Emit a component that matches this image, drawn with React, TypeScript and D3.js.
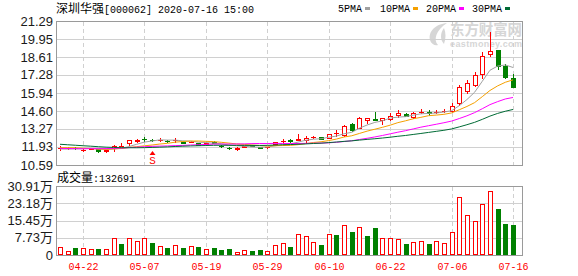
import React from "react";
import * as d3 from "d3";

const dates = ["04-17","04-20","04-21","04-22","04-23","04-24","04-27","04-28","04-29","04-30","05-06","05-07","05-08","05-11","05-12","05-13","05-14","05-15","05-18","05-19","05-20","05-21","05-22","05-25","05-26","05-27","05-28","05-29","06-01","06-02","06-03","06-04","06-05","06-08","06-09","06-10","06-11","06-12","06-15","06-16","06-17","06-18","06-19","06-22","06-23","06-24","06-29","06-30","07-01","07-02","07-03","07-06","07-07","07-08","07-09","07-10","07-13","07-14","07-15","07-16"];

const opens = [11.83,11.84,11.87,11.70,11.80,11.78,11.62,11.83,12.00,12.21,
  12.35,12.54,12.47,12.42,12.40,12.42,12.30,12.30,12.20,12.16,
  12.30,12.02,11.88,11.80,11.95,12.04,11.93,11.90,12.14,12.34,
  12.47,12.45,12.45,12.64,12.67,12.58,12.94,12.80,13.61,13.36,
  13.91,14.00,13.93,14.01,14.31,14.38,14.18,14.50,14.55,14.52,
  14.58,14.60,15.17,16.11,16.53,17.35,18.82,19.14,17.97,17.03];
const highs = [11.98,11.90,11.92,11.78,11.86,11.80,11.72,12.05,12.20,12.48,
  12.55,12.66,12.55,12.58,12.44,12.58,12.33,12.36,12.22,12.25,
  12.35,12.05,11.90,11.95,12.02,12.06,11.95,11.96,12.30,12.55,
  12.55,12.89,12.77,12.74,12.70,12.90,13.19,13.55,13.70,14.15,
  14.08,14.51,14.10,14.43,14.68,14.42,14.53,14.75,14.68,14.68,
  14.73,15.17,16.53,16.91,17.53,19.00,20.44,19.14,18.09,17.35];
const lows = [11.72,11.80,11.80,11.62,11.76,11.58,11.58,11.60,11.98,12.08,
  12.32,12.35,12.38,12.35,12.32,12.33,12.20,12.27,12.05,12.10,
  12.22,11.95,11.80,11.70,11.93,11.98,11.84,11.88,12.12,12.25,
  12.33,12.44,12.28,12.60,12.53,12.56,12.72,12.75,13.12,13.33,
  13.69,13.90,13.63,13.93,14.18,14.22,14.05,14.43,14.31,14.43,
  14.50,14.55,15.05,15.92,16.47,17.03,18.69,17.72,17.03,16.36];
const closes = [11.86,11.86,11.84,11.74,11.82,11.60,11.70,12.03,12.03,12.45,
  12.45,12.50,12.44,12.45,12.36,12.45,12.22,12.33,12.08,12.20,
  12.25,11.98,11.84,11.84,11.99,12.02,11.86,11.93,12.28,12.37,
  12.35,12.52,12.62,12.67,12.55,12.89,12.97,13.49,13.19,14.10,
  14.06,13.93,14.06,14.25,14.43,14.25,14.48,14.55,14.43,14.55,
  14.62,14.97,16.41,16.71,17.28,18.69,19.06,17.97,17.11,16.36];

// closes of the 29 sessions before the first visible day (for the moving averages)
const prevCloses = [12.95,12.90,12.85,12.80,12.78,12.70,12.65,12.60,12.55,12.52,
  12.20,12.00,11.85,11.70,11.62,11.60,11.65,11.70,11.75,11.73,
  11.85,11.95,12.05,12.05,12.00,11.90,11.75,11.70,11.69];

const volumes = [34500,18000,31000,31000,27000,27000,27000,75000,49000,75000,
  63000,75000,54000,39000,31000,43000,31000,39000,36000,25000,
  31000,22000,27000,13000,21000,19000,22000,16000,43000,52000,
  36000,93000,84000,58000,45000,93000,90000,133000,103000,124000,
  85000,121000,75000,75000,70000,49000,57000,61000,49000,61000,
  52000,102000,258000,178000,151000,228000,285000,206000,139000,132691];
const volumeUp = [1,1,0,1,1,0,1,1,0,1, 1,1,0,1,0,1,0,1,0,1, 0,0,0,1,1,0,0,1,1,1,
  0,1,1,1,0,1,0,1,0,1, 0,0,1,1,1,0,1,1,0,1, 1,1,1,1,1,1,1,0,0,0];

const priceTicks = [21.29, 19.95, 18.61, 17.28, 15.94, 14.60, 13.27, 11.93, 10.59];
const priceTickLabels = ["21.29","19.95","18.61","17.28","15.94","14.60","13.27","11.93","10.59"];
const volTicks = [309100, 231800, 154500, 77300, 0];
const volTickLabels = ["30.91万","23.18万","15.45万","7.73万","0"];
const dateTicks = ["04-22","05-07","05-19","05-29","06-10","06-22","07-06","07-16"];

const maPeriods = [5, 10, 20, 30];
const maNames = ["5PMA", "10PMA", "20PMA", "30PMA"];
const maColors = ["#a0a0a0", "#f5a000", "#ff00ff", "#006b35"];

const stockName = "深圳华强";
const titleRest = "[000062] 2020-07-16 15:00";
const volLabel = "成交量";
const markerIndex = 12;
const markerText = "S";

const RED = "#ff0000";
const GREEN = "#008000";
const FRAME = "#9a9a9a";
const GRID = "#d0d0d0";
const MONO = "'Liberation Mono', 'DejaVu Sans Mono', monospace";
const CJK = "'Noto Sans CJK SC', sans-serif";
const SANS = "'Liberation Sans', Arial, 'Noto Sans CJK SC', sans-serif";

export default function App() {
  const W = 578, H = 276;
  const left = 56, right = 522, top = 21, bottom = 165;
  const vTop = 186, vBottom = 255;

  const x = d3.scalePoint<string>().domain(dates).range([60, 513]);
  const y = d3.scaleLinear().domain([10.59, 21.29]).range([bottom, top]);
  const yv = d3.scaleLinear().domain([0, 309100]).range([vBottom, vTop]);
  const px = (d: string) => Math.round(x(d) as number) + 0.5;

  const allCloses = prevCloses.concat(closes);
  const off = prevCloses.length;
  const mas = maPeriods.map((n) =>
    closes.map((_, i) => d3.mean(allCloses.slice(off + i - n + 1, off + i + 1)) as number)
  );
  const line = d3
    .line<number>()
    .x((_, i) => x(dates[i]) as number)
    .y((d) => y(d));

  const legendX = [338, 380, 426, 472];
  const legendSq = [365, 413, 459, 505];

  return (
    <svg
      width={W}
      height={H}
      style={{ position: "absolute", left: 0, top: 0, background: "#fff" }}
    >
      {/* title */}
      <text x={56} y={13} fontSize={12} fontFamily={CJK} fill="#000">
        <tspan>{stockName}</tspan>
        <tspan fontFamily={MONO} fontSize={10}>{titleRest}</tspan>
      </text>
      {/* legend */}
      {maNames.map((n, k) => (
        <g key={n}>
          <text x={legendX[k]} y={12} fontSize={10} fontFamily={MONO} fill="#000">{n}</text>
          <rect x={legendSq[k]} y={7} width={5} height={3} fill={maColors[k]} />
        </g>
      ))}

      {/* watermark */}
      <g fill="#d6d6d6">
        <path d="M447,23 C436,24 428,31 430,40 C431,44 435,46 438,45 C433,40 436,30 447,23 Z" />
        <path d="M444,28 C440,33 440,40 444,44 C446,38 446,33 444,28 Z" />
        <text x={450} y={35} fontSize={14.5} fontFamily={CJK} fontWeight="bold" textLength={72}>东方财富网</text>
        <text x={450} y={47} fontSize={9} fontFamily={SANS} fontWeight="bold" textLength={72}>eastmoney.com</text>
      </g>

      {/* price grid */}
      {priceTicks.map((t, k) => {
        const yy = Math.round(y(t)) + 0.5;
        const edge = k === 0 || k === priceTicks.length - 1;
        return (
          <line key={"pg" + k} x1={left} x2={right} y1={yy} y2={yy} stroke={edge ? FRAME : GRID} strokeWidth={1} />
        );
      })}
      {dateTicks.map((d) => (
        <line key={"pv" + d} x1={px(d)} x2={px(d)} y1={top + 1} y2={bottom} stroke={GRID} strokeDasharray="4,3" />
      ))}
      <line x1={left + 0.5} x2={left + 0.5} y1={top} y2={bottom + 1} stroke={FRAME} />
      <line x1={right + 0.5} x2={right + 0.5} y1={top} y2={bottom + 1} stroke={FRAME} />
      {priceTicks.map((t, k) => (
        <text key={"pl" + k} x={53} y={y(t) + 4.5} fontSize={13} fontFamily={SANS} textAnchor="end" fill="#1a1a1a">
          {priceTickLabels[k]}
        </text>
      ))}

      {/* candles */}
      {dates.map((d, i) => {
        const o = opens[i], c = closes[i], h = highs[i], l = lows[i];
        const cx = px(d);
        const up = c >= o;
        const color = up ? RED : GREEN;
        const bt = Math.round(y(Math.max(o, c)));
        const bb = Math.round(y(Math.min(o, c)));
        const yh = Math.round(y(h));
        const yl = Math.round(y(l));
        if (bb - bt < 1) {
          return (
            <g key={"c" + i} stroke={color}>
              <line x1={cx} x2={cx} y1={yh} y2={yl + 1} />
              <line x1={cx - 2.5} x2={cx + 2.5} y1={bt + 0.5} y2={bt + 0.5} />
            </g>
          );
        }
        if (up) {
          return (
            <g key={"c" + i} stroke={color}>
              {yh < bt && <line x1={cx} x2={cx} y1={yh} y2={bt} />}
              {yl > bb && <line x1={cx} x2={cx} y1={bb + 1} y2={yl + 1} />}
              <rect x={cx - 2} y={bt + 0.5} width={4} height={bb - bt} fill="#fff" />
            </g>
          );
        }
        return (
          <g key={"c" + i}>
            <line x1={cx} x2={cx} y1={yh} y2={yl + 1} stroke={color} />
            <rect x={cx - 2.5} y={bt} width={5} height={bb - bt + 1} fill={color} />
          </g>
        );
      })}

      {/* moving averages */}
      {mas.map((m, k) => (
        <path key={"ma" + k} d={line(m) || ""} fill="none" stroke={maColors[k]} strokeWidth={1} />
      ))}

      {/* event marker */}
      {(() => {
        const mx = px(dates[markerIndex]);
        const my = Math.round(y(lows[markerIndex]));
        return (
          <g fill={RED}>
            <path d={`M${mx},${my + 10} L${mx + 3},${my + 14} L${mx - 3},${my + 14} Z`} />
            <text x={mx} y={my + 23} fontSize={11} fontFamily={MONO} textAnchor="middle">{markerText}</text>
          </g>
        );
      })()}

      {/* volume label */}
      <text x={57} y={182} fontSize={12} fontFamily={CJK} fill="#000">
        <tspan>{volLabel}</tspan>
        <tspan fontFamily={MONO} fontSize={10}>{":" + volumes[volumes.length - 1]}</tspan>
      </text>

      {/* volume grid */}
      {volTicks.map((t, k) => {
        const yy = Math.round(yv(t)) + 0.5;
        const edge = k === 0 || k === volTicks.length - 1;
        return <line key={"vg" + k} x1={left} x2={right} y1={yy} y2={yy} stroke={edge ? FRAME : GRID} />;
      })}
      {dateTicks.map((d) => (
        <line key={"vv" + d} x1={px(d)} x2={px(d)} y1={vTop + 1} y2={vBottom} stroke={GRID} strokeDasharray="4,3" />
      ))}
      <line x1={left + 0.5} x2={left + 0.5} y1={vTop} y2={vBottom + 1} stroke={FRAME} />
      <line x1={right + 0.5} x2={right + 0.5} y1={vTop} y2={vBottom + 1} stroke={FRAME} />
      {volTicks.map((t, k) => (
        <text key={"vl" + k} x={53} y={yv(t) + 4.5} fontSize={13} fontFamily={SANS} textAnchor="end" fill="#1a1a1a">
          {volTickLabels[k]}
        </text>
      ))}

      {/* volume bars */}
      {dates.map((d, i) => {
        const cx = px(d);
        const yt = Math.round(yv(volumes[i]));
        if (volumeUp[i]) {
          return (
            <rect key={"v" + i} x={cx - 2} y={yt + 0.5} width={4} height={vBottom - yt - 1} fill="#fff" stroke={RED} />
          );
        }
        return <rect key={"v" + i} x={cx - 2.5} y={yt} width={5} height={vBottom - yt} fill={GREEN} />;
      })}

      {/* date labels */}
      {dateTicks.map((d) => (
        <text key={"dl" + d} x={px(d)} y={270} fontSize={10} fontFamily={MONO} textAnchor="middle" fill={RED}>
          {d}
        </text>
      ))}
    </svg>
  );
}
